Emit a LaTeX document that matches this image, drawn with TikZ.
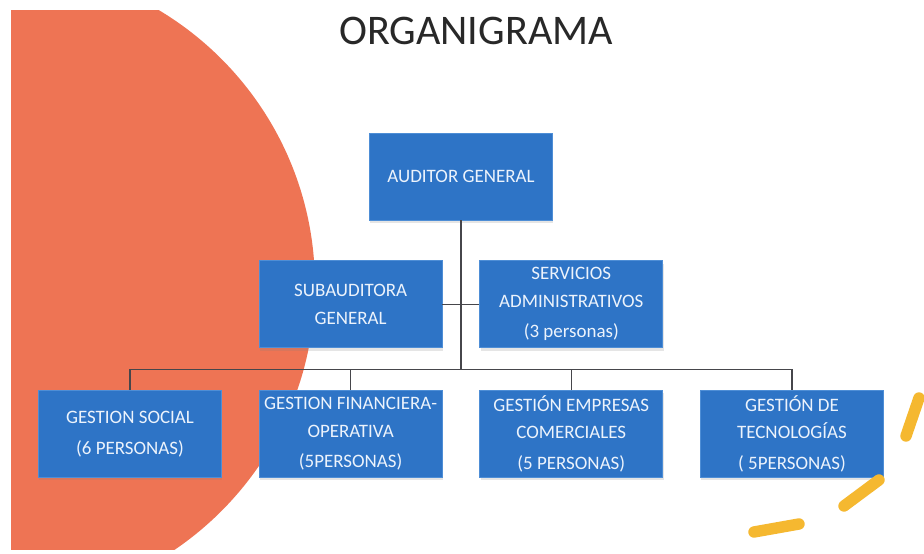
\documentclass[tikz,border=0pt]{standalone}
\usepackage{fontspec}
\setmainfont{Carlito}
\usetikzlibrary{positioning,calc,shadows}

\definecolor{orangefill}{RGB}{238,116,84}
\definecolor{boxblue}{RGB}{46,116,198}
\definecolor{boxedge}{RGB}{78,142,214}
\definecolor{boxtext}{RGB}{236,243,252}
\definecolor{linegray}{RGB}{70,70,75}
\definecolor{markyellow}{RGB}{245,184,48}
\definecolor{titlegray}{RGB}{40,40,40}

\begin{document}
\begin{tikzpicture}[x=0.02cm,y=0.02cm,
	box/.style={rectangle,fill=boxblue,draw=boxedge,line width=0.4pt,
		minimum width=3.66cm,minimum height=1.74cm,inner sep=2pt,
		text=boxtext,align=center,font=\fontsize{10.8}{15.5}\selectfont,
		drop shadow={opacity=0.2,shadow xshift=0.4pt,shadow yshift=-1.6pt}},
	link/.style={draw=linegray,line width=0.6pt},
	stroke/.style={draw=markyellow,line width=6.5pt,line cap=round}]
	\useasboundingbox (0,0) rectangle (924,554);
	\fill[white] (0,0) rectangle (924,554);
	% half disc on the left
	\begin{scope}
		\clip (11,4) rectangle (924,543);
		\fill[orangefill] (-5,269) circle[radius=6.4cm];
	\end{scope}
	\node[font=\fontsize{24}{28}\selectfont,text=titlegray,anchor=base](title) at (476,509){ORGANIGRAMA};
	% bottom row
	\node[box](social) at (130,120){GESTION SOCIAL\\[2pt](6 PERSONAS)};
	\node[box](fin)[right=0.74cm of social]{GESTION FINANCIERA-\\OPERATIVA\\[2pt](5PERSONAS)};
	\node[box](emp)[right=0.74cm of fin]{GESTIÓN EMPRESAS\\COMERCIALES\\[2pt](5 PERSONAS)};
	\node[box](tec)[right=0.74cm of emp]{GESTIÓN DE\\TECNOLOGÍAS\\[2pt]( 5PERSONAS)};
	% middle row
	\node[box](sub)[above=0.84cm of fin]{SUBAUDITORA\\GENERAL};
	\node[box](serv)[above=0.84cm of emp]{SERVICIOS\\ADMINISTRATIVOS\\[2pt](3 personas)};
	\coordinate(mid) at ($(sub.north)!0.5!(serv.north)$);
	\node[box](aud)[above=0.8cm of mid]{AUDITOR GENERAL};
	\coordinate(bus) at ($(sub.south)!0.5!(fin.north)$);
	\draw[link](aud.south) -- (aud.south |- bus);
	\draw[link](sub.east) -- (serv.west);
	\draw[link](social.north) |- (tec.north |- bus) -- (tec.north);
	\draw[link](fin.north) -- (fin.north |- bus);
	\draw[link](emp.north) -- (emp.north |- bus);
	% yellow strokes
	\draw[stroke](919,156) -- (906,118);
	\draw[stroke](879,74) -- (844,48);
	\draw[stroke](754,22) -- (799,30);
\end{tikzpicture}
\end{document}
